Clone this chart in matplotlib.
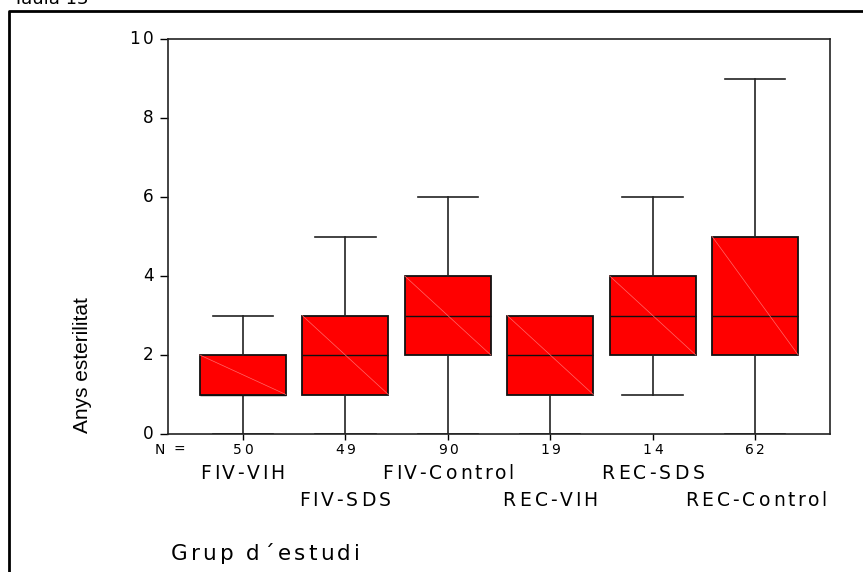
import matplotlib
matplotlib.use("Agg")
import matplotlib.pyplot as plt
from matplotlib.lines import Line2D
import matplotlib.transforms as mtransforms
from matplotlib.font_manager import FontProperties, findfont, get_font

# Grups d'estudi i resum dels anys d'esterilitat
groups = ["FIV-VIH", "FIV-SDS", "FIV-Control", "REC-VIH", "REC-SDS", "REC-Control"]
counts = [50, 49, 90, 19, 14, 62]
whislo = [0, 0, 0, 0, 1, 0]
q1 = [1, 1, 2, 1, 2, 2]
med = [1, 2, 3, 2, 3, 3]
q3 = [2, 3, 4, 3, 4, 5]
whishi = [3, 5, 6, 3, 6, 9]
yticks = [0, 2, 4, 6, 8, 10]

FAM = "DejaVu Sans"
WIDE = 1.28  # horizontal spread of the labels

fig = plt.figure(figsize=(8.63, 5.72), dpi=100)
ax = fig.add_axes([168 / 863, 1 - 434 / 572, 662 / 863, 395 / 572])


def advances(s, size):
    font = get_font(findfont(FontProperties(family=FAM)))
    font.set_size(size, 72)
    return [font.load_char(ord(c)).linearHoriAdvance / 65536 for c in s]


def wide_text(x, y, s, transform, size, ha="center", va="baseline", dx=0.0):
    # lay the characters out one by one with wider spacing
    adv = advances(s, size)
    total = sum(adv) * WIDE
    pos = dx + {"left": 0.0, "center": -total / 2, "right": -total}[ha]
    for c, a in zip(s, adv):
        if c != " ":
            tr = mtransforms.offset_copy(transform, fig=fig, x=pos + WIDE * a / 2,
                                         y=0, units="points")
            fig.text(x, y, c, transform=tr, ha="center", va=va,
                     fontsize=size, family=FAM)
        pos += WIDE * a


stats = []
for i in range(len(groups)):
    stats.append(dict(label=groups[i], whislo=whislo[i], q1=q1[i], med=med[i],
                      q3=q3[i], whishi=whishi[i], fliers=[]))

pos = list(range(1, len(groups) + 1))
ax.bxp(stats, positions=pos, widths=0.84, patch_artist=True, showfliers=False,
       boxprops=dict(facecolor="#ff0000", edgecolor="#111111", linewidth=1.3),
       medianprops=dict(color="#111111", linewidth=1.0),
       whiskerprops=dict(color="#222222", linewidth=1.2),
       capprops=dict(color="#222222", linewidth=1.2),
       capwidths=0.59)

# faint diagonal inside each box
for p, lo, hi in zip(pos, q1, q3):
    ax.plot([p - 0.42, p + 0.42], [hi, lo], color="#ff6a6a", lw=0.5, zorder=3)

ax.set_xlim(0.27, 6.73)
ax.set_ylim(0, 10)
ax.set_yticks(yticks)
ax.set_yticklabels([])
ax.set_xticks(pos)
ax.set_xticklabels([])
ax.tick_params(axis="y", direction="out", length=5.8, width=1.0)
ax.tick_params(axis="x", direction="out", length=4, width=1.0)
for s in ax.spines.values():
    s.set_linewidth(1.2)
    s.set_color("#222222")

ytr = mtransforms.blended_transform_factory(ax.transAxes, ax.transData)
for t in yticks:
    wide_text(0.0, t, str(t), ytr, 12.2, ha="right", va="center", dx=-9.4)

xtr = mtransforms.blended_transform_factory(ax.transData, ax.transAxes)
for p, c in zip(pos, counts):
    wide_text(p, -20 / 395, str(c), xtr, 10, ha="center")
wide_text(0.0, -20 / 395, "N =", ax.transAxes, 10, ha="left", dx=-10.8)

for i, g in enumerate(groups):
    y = -45 / 395 if i % 2 == 0 else -72 / 395
    wide_text(pos[i], y, g, xtr, 13.5, ha="center")

wide_text(168 / 863, 1 - 560 / 572, "Grup d\u00b4estudi", fig.transFigure, 15.5,
          ha="left")

fig.text(13 / 863, 1 - 4 / 572, "Taula 13", ha="left", va="baseline",
         fontsize=13, family=FAM)

fig.text(82 / 863, 1 - 365 / 572, "Anys esterilitat", rotation=90,
         ha="center", va="center", fontsize=15, family="Liberation Sans")

# outer frame, left and top edges
fig.add_artist(Line2D([9 / 863, 9 / 863, 1.0], [0.0, 1 - 11 / 572, 1 - 11 / 572],
                      transform=fig.transFigure, color="black", lw=2.0))

fig.savefig("out.png", dpi=100)
